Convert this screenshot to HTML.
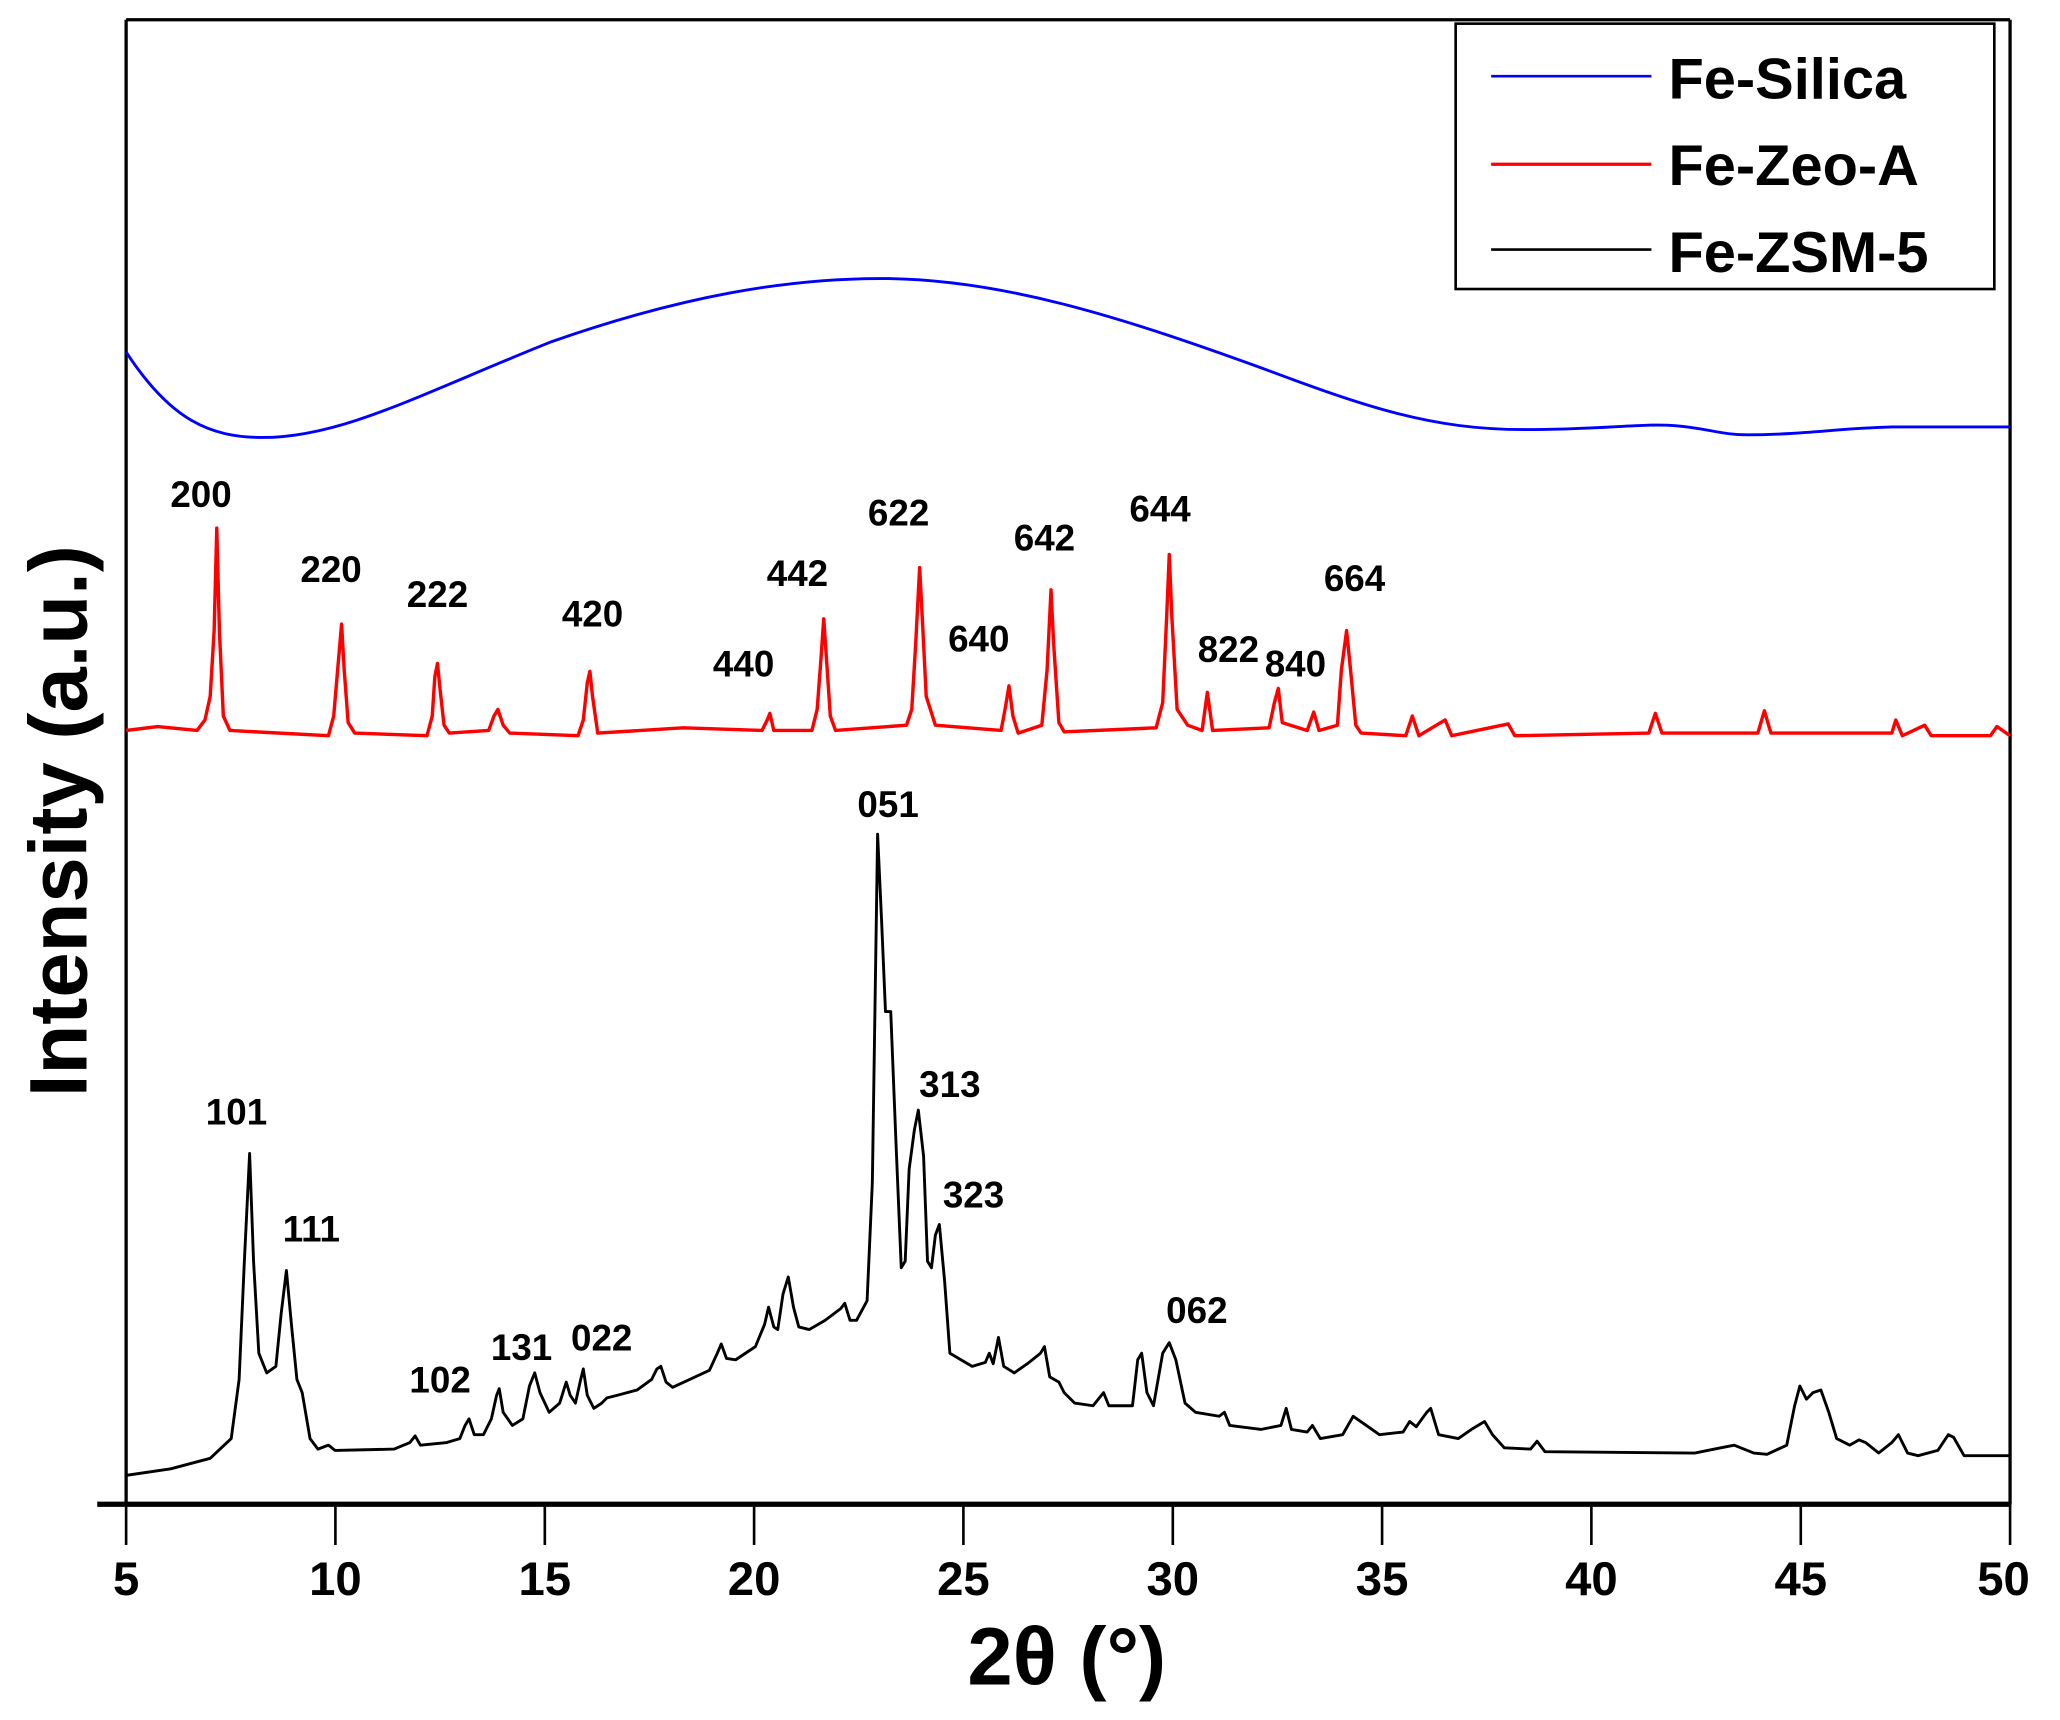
<!DOCTYPE html>
<html><head><meta charset="utf-8"><style>html,body{margin:0;padding:0;background:#fff}svg{display:block}</style></head>
<body>
<svg width="2060" height="1720" viewBox="0 0 1568 1309.2" preserveAspectRatio="none" xmlns="http://www.w3.org/2000/svg" font-family="Liberation Sans, sans-serif" font-weight="bold">
<rect width="1568" height="1309.2" fill="#fff"/>
<line x1="96" y1="15" x2="96" y2="1145" stroke="#000" stroke-width="2.5"/>
<line x1="96" y1="15" x2="1530" y2="15" stroke="#000" stroke-width="2.5"/>
<line x1="1530" y1="15" x2="1530" y2="1145" stroke="#000" stroke-width="2.5"/>
<line x1="74" y1="1145" x2="1531" y2="1145" stroke="#000" stroke-width="4"/>
<g stroke="#000" stroke-width="2">
<line x1="96" y1="1145" x2="96" y2="1176"/><line x1="255.3" y1="1145" x2="255.3" y2="1176"/><line x1="414.7" y1="1145" x2="414.7" y2="1176"/><line x1="574" y1="1145" x2="574" y2="1176"/><line x1="733.3" y1="1145" x2="733.3" y2="1176"/><line x1="892.7" y1="1145" x2="892.7" y2="1176"/><line x1="1052" y1="1145" x2="1052" y2="1176"/><line x1="1211.3" y1="1145" x2="1211.3" y2="1176"/><line x1="1370.7" y1="1145" x2="1370.7" y2="1176"/><line x1="1530" y1="1145" x2="1530" y2="1176"/>
</g>
<g font-size="36" text-anchor="middle">
<text x="96" y="1214">5</text><text x="255.3" y="1214">10</text><text x="414.7" y="1214">15</text><text x="574" y="1214">20</text><text x="733.3" y="1214">25</text><text x="892.7" y="1214">30</text><text x="1052" y="1214">35</text><text x="1211.3" y="1214">40</text><text x="1370.7" y="1214">45</text><text x="1525" y="1214">50</text>
</g>
<text x="812" y="1282" font-size="62" text-anchor="middle">2θ (°)</text>
<text transform="translate(66,625) rotate(-90)" font-size="62" text-anchor="middle">Intensity (a.u.)</text>
<rect x="1108" y="18" width="410" height="202" fill="#fff" stroke="#000" stroke-width="2"/>
<line x1="1135" y1="58" x2="1257" y2="58" stroke="#00f" stroke-width="2"/>
<line x1="1135" y1="125" x2="1257" y2="125" stroke="#f00" stroke-width="2.5"/>
<line x1="1135" y1="190" x2="1257" y2="190" stroke="#000" stroke-width="2"/>
<g font-size="44"><text x="1270" y="75">Fe-Silica</text><text x="1270" y="141">Fe-Zeo-A</text><text x="1270" y="207">Fe-ZSM-5</text></g>
<path d="M96,268 C130,320 160,333 200,333 C260,333 320,300 420,260 C520,225 600,212 670,212 C760,212 850,240 960,280 C1040,310 1090,327 1160,327 C1220,327 1250,322 1275,324 C1300,326 1310,331 1330,331 C1370,331 1400,326 1440,325 L1530,325" fill="none" stroke="#00f" stroke-width="2.2"/>
<polyline fill="none" stroke="#f00" stroke-width="2.6" stroke-linejoin="round" points="96,556 120,553 150,556 156,548 160,530 163,480 165,402 167,480 170,545 175,556 250,560 254,545 257,510 260,475 262,510 265,550 270,558 325,560 329,545 331,515 333,505 335,525 338,552 342,558 372,556 376,545 379,540 383,552 388,558 440,560 444,548 447,520 449,511 451,530 455,558 520,554 580,556 584,548 586,543 589,556 618,556 622,540 625,500 627,471 629,500 632,545 636,556 690,552 694,540 697,490 700,432 702,470 705,530 712,552 762,556 765,540 768,522 771,545 775,558 793,552 797,510 800,449 802,490 806,550 810,557 880,554 885,535 888,470 890,422 892,470 896,540 904,552 915,556 919,527 923,556 966,554 970,535 973,524 976,550 995,556 1000,542 1004,556 1018,552 1021,510 1025,480 1028,510 1032,552 1036,558 1070,560 1075,545 1080,560 1100,548 1105,560 1148,551 1153,560 1255,558 1260,543 1265,558 1338,558 1343,541 1348,558 1440,558 1443,548 1448,560 1465,552 1470,560 1515,560 1520,553 1530,560"/>
<polyline fill="none" stroke="#000" stroke-width="2.2" stroke-linejoin="round" points="96,1123 130,1118 160,1110 176,1095 182,1050 186,960 190,878 193,960 197,1030 203,1045 210,1040 214,1000 218,967 222,1010 226,1050 230,1060 236,1095 242,1103 250,1100 255,1104 300,1103 312,1098 316,1093 320,1100 340,1098 350,1095 354,1085 357,1080 361,1092 368,1092 374,1080 378,1062 380,1057 383,1075 390,1085 398,1080 403,1055 407,1045 411,1060 418,1075 426,1068 431,1052 434,1062 438,1068 442,1050 444,1042 447,1062 452,1072 458,1068 462,1064 470,1062 485,1058 496,1050 500,1042 503,1040 507,1052 512,1056 525,1050 540,1043 546,1030 549,1023 553,1034 560,1035 575,1025 582,1008 585,995 589,1010 592,1012 596,985 600,972 604,995 608,1010 616,1012 628,1005 640,996 643,992 647,1005 652,1005 660,990 664,900 668,635 671,700 674,770 678,770 682,870 686,965 689,960 692,890 696,860 699,845 703,880 706,960 709,965 712,940 715,932 719,975 723,1030 740,1040 750,1037 753,1030 756,1038 760,1018 764,1040 772,1045 782,1038 792,1030 795,1025 799,1048 806,1052 810,1060 818,1068 832,1070 840,1060 844,1070 862,1070 866,1035 869,1030 873,1060 878,1070 885,1030 890,1022 895,1035 902,1068 910,1075 928,1078 932,1075 936,1085 960,1088 975,1085 979,1072 983,1088 995,1090 999,1085 1005,1095 1022,1092 1030,1078 1040,1085 1050,1092 1068,1090 1073,1082 1078,1086 1086,1075 1089,1072 1095,1092 1110,1095 1120,1088 1130,1082 1136,1092 1145,1102 1165,1103 1170,1097 1176,1105 1290,1106 1305,1103 1320,1100 1335,1106 1345,1107 1360,1100 1366,1070 1370,1055 1375,1065 1380,1060 1386,1058 1392,1075 1398,1095 1408,1100 1415,1096 1420,1098 1430,1106 1440,1098 1445,1092 1452,1106 1460,1108 1475,1104 1483,1092 1487,1094 1495,1108 1530,1108"/>
<g font-size="28" text-anchor="middle">
<text x="153" y="386">200</text><text x="252" y="443">220</text><text x="333" y="462">222</text><text x="451" y="477">420</text><text x="566" y="515">440</text><text x="607" y="446">442</text><text x="684" y="400">622</text><text x="745" y="496">640</text><text x="795" y="419">642</text><text x="883" y="397">644</text><text x="935" y="504">822</text><text x="986" y="515">840</text><text x="1031" y="450">664</text>
<text x="180" y="856">101</text><text x="237" y="945">111</text><text x="335" y="1060">102</text><text x="397" y="1035">131</text><text x="458" y="1028">022</text><text x="676" y="622">051</text><text x="723" y="835">313</text><text x="741" y="919">323</text><text x="911" y="1007">062</text>
</g>
</svg>
</body></html>
